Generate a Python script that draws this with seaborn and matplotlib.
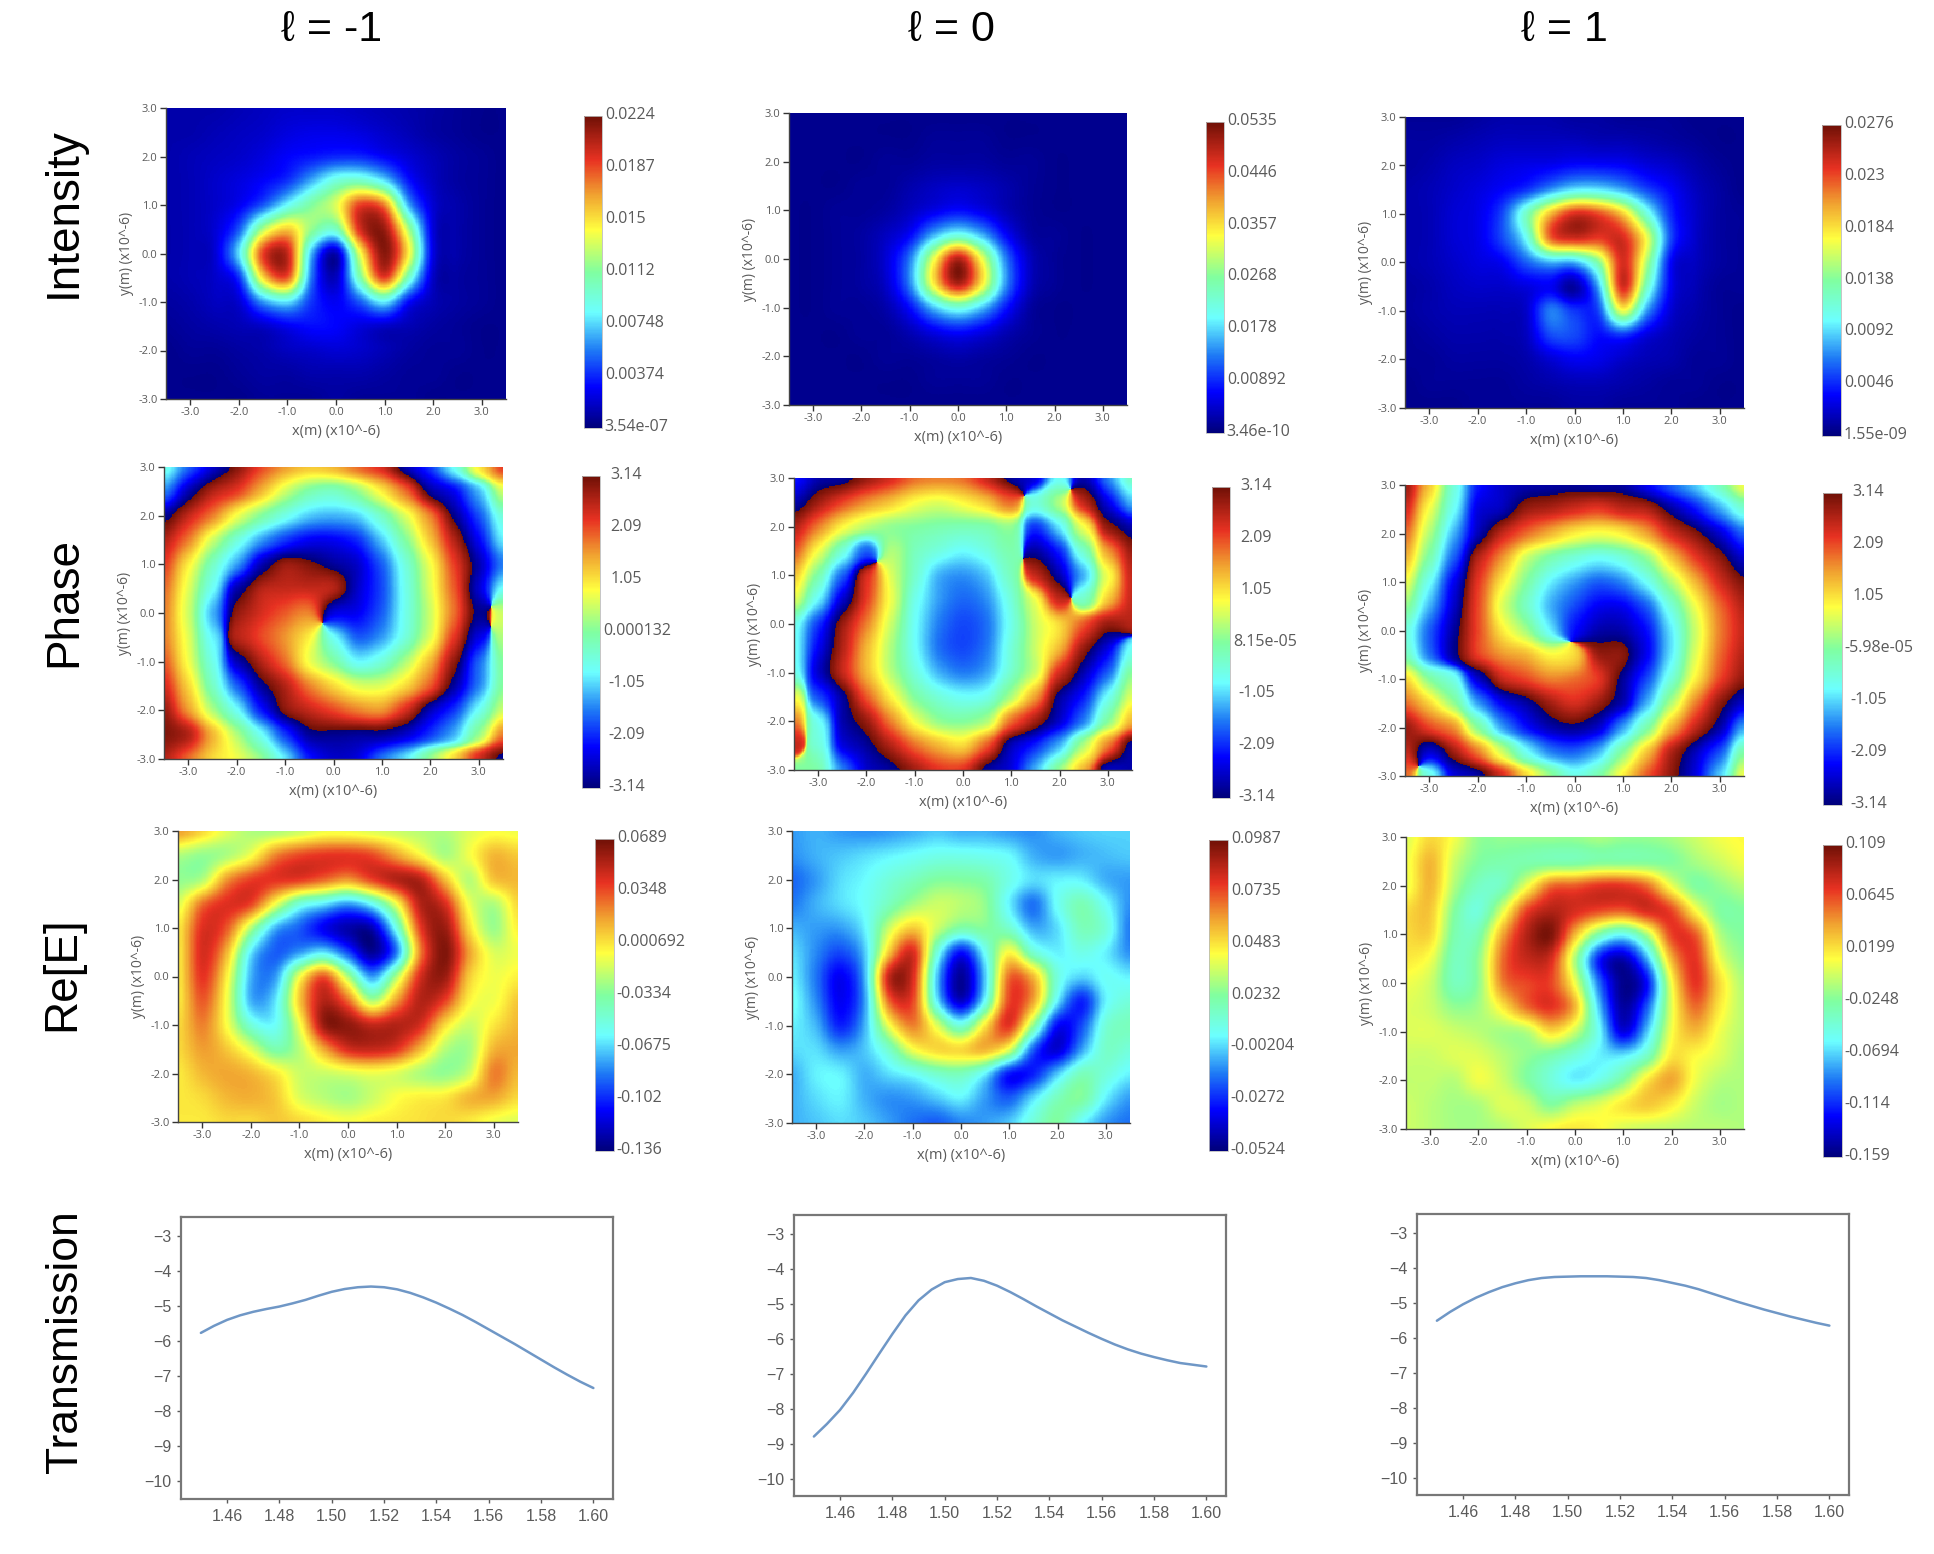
import numpy as np
import pandas as pd
import matplotlib
matplotlib.use('Agg')
import matplotlib.pyplot as plt
from matplotlib.colors import LinearSegmentedColormap
from matplotlib.transforms import ScaledTranslation
import seaborn as sns

sns.set_theme(style='white')
plt.rcParams['font.family'] = ['Liberation Sans', 'DejaVu Sans']

# every field below on a 0.5 step grid, rows y = 3 .. -3,
# columns x = -3.5 .. 3.5, as percent of the way up that panel's colour bar
intensity_m1 = [
    [5,5,5,6,7,8,8,8,7,6,5,4,3,2,2],
    [5,5,6,7,8,10,11,11,10,8,6,4,3,2,2],
    [5,6,7,8,10,13,15,17,17,13,9,6,4,3,2],
    [5,6,8,10,13,18,30,42,45,35,15,7,4,3,2],
    [5,6,8,12,22,38,50,60,85,78,30,9,5,3,2],
    [5,6,9,22,56,70,52,45,88,95,55,10,5,3,2],
    [5,6,9,35,85,90,30,6,62,97,65,11,5,3,2],
    [5,6,8,18,68,82,24,7,48,85,45,8,4,3,2],
    [4,5,7,9,28,35,18,12,22,36,14,6,4,3,2],
    [3,4,5,6,8,12,14,13,10,8,6,4,3,2,2],
    [2,3,3,4,5,7,8,9,8,6,4,3,3,2,2],
    [2,2,2,3,4,4,5,5,5,4,3,3,2,2,2],
    [2,2,2,2,3,3,3,4,3,3,3,2,2,2,2],
]
intensity_0 = [
    [2,2,2,2,2,2,2,2,2,2,2,2,2,2,2],
    [2,2,2,2,2,2,3,3,3,2,2,2,2,2,2],
    [2,2,2,2,3,3,4,4,4,3,3,2,2,2,2],
    [2,2,2,3,3,5,7,8,7,5,3,2,2,2,2],
    [2,2,3,3,4,7,11,14,11,6,3,2,2,2,2],
    [2,2,3,4,7,13,30,40,30,13,4,3,2,2,2],
    [2,2,3,4,9,25,62,92,62,25,7,3,2,2,2],
    [2,2,3,4,8,26,66,93,66,27,7,3,2,2,2],
    [2,2,3,3,5,14,32,42,32,15,4,2,2,2,2],
    [2,2,2,3,3,6,11,14,11,6,3,2,2,2,2],
    [2,2,2,2,3,3,4,5,4,3,2,2,2,2,2],
    [2,2,2,2,2,2,3,3,3,2,2,2,2,2,2],
    [2,2,2,2,2,2,2,2,2,2,2,2,2,2,2],
]
intensity_p1 = [
    [3,3,3,4,5,5,5,4,4,3,3,3,2,2,2],
    [4,4,5,6,7,7,7,7,6,6,5,4,3,2,2],
    [4,5,7,8,10,11,12,14,14,13,10,8,5,3,2],
    [5,6,8,10,13,18,28,36,36,30,20,13,7,4,2],
    [5,6,9,11,20,45,72,88,84,70,42,17,8,4,3],
    [5,6,9,11,20,38,80,88,85,88,62,20,8,4,3],
    [5,6,8,10,12,22,30,30,50,88,55,13,7,4,3],
    [4,5,7,8,8,10,12,4,30,88,45,12,6,3,3],
    [4,5,6,6,6,8,25,18,20,62,28,9,5,3,2],
    [3,4,5,5,5,7,20,20,14,18,10,6,4,3,2],
    [3,3,4,4,4,5,9,12,11,8,6,5,3,3,2],
    [2,3,3,3,3,4,5,6,6,5,4,3,3,2,2],
    [2,2,2,3,3,3,3,4,4,3,3,3,2,2,2],
]
phase_m1 = [
    [40,22,8,97,84,75,70,72,80,88,5,18,38,65,85],
    [25,5,92,85,72,58,48,45,52,65,80,3,12,30,58],
    [3,90,78,62,50,40,32,30,33,45,60,78,2,20,42],
    [92,78,58,42,28,18,12,12,17,32,50,70,92,12,35],
    [85,65,45,28,6,95,98,3,8,22,42,62,85,5,25],
    [80,60,38,5,92,90,90,92,8,20,40,60,82,8,38],
    [78,58,30,96,88,82,78,10,12,22,40,58,80,2,58],
    [78,60,36,92,84,76,65,38,22,28,42,60,86,10,55],
    [82,62,40,6,92,80,62,50,37,42,55,72,96,22,50],
    [88,68,45,22,3,92,78,68,60,60,68,82,4,25,50],
    [95,75,55,38,15,97,90,84,78,76,88,6,18,38,58],
    [98,92,72,55,38,18,3,2,3,3,8,18,30,52,78],
    [92,80,68,62,52,35,15,8,10,24,35,52,68,88,3],
]
phase_0 = [
    [15,5,3,95,88,80,78,80,90,3,10,38,5,25,45],
    [5,94,84,76,70,63,60,64,70,80,42,55,90,10,30],
    [92,78,64,56,52,50,48,47,48,52,18,35,62,96,5],
    [82,62,42,22,55,46,41,37,41,48,4,16,44,75,95],
    [70,48,22,88,60,44,30,27,32,46,90,5,30,62,90],
    [60,36,8,85,62,40,28,23,27,42,62,90,45,70,90],
    [40,18,95,78,58,38,25,20,24,40,58,68,82,95,92],
    [38,12,92,72,55,38,24,20,25,42,58,72,95,10,38],
    [40,8,90,72,56,42,30,25,29,44,58,88,5,22,50],
    [62,20,3,82,65,50,42,38,40,55,75,3,15,38,60],
    [78,38,5,95,78,62,52,50,55,80,94,8,25,50,72],
    [90,42,10,3,92,80,72,68,82,6,16,30,55,78,3],
    [50,48,25,8,3,94,86,86,3,10,30,52,72,6,5],
]
phase_p1 = [
    [95,70,42,15,8,5,4,3,4,4,12,22,32,45,62],
    [88,62,38,10,6,95,92,88,85,90,92,3,14,28,42],
    [80,55,30,6,90,80,72,65,62,65,74,88,97,8,22],
    [72,48,22,92,76,58,48,42,38,42,52,70,85,96,8],
    [62,38,12,86,66,50,36,28,22,26,38,55,72,88,98],
    [52,30,8,84,60,45,30,20,12,12,22,42,62,80,92],
    [42,22,4,84,66,54,36,14,5,5,14,35,58,78,90],
    [46,24,3,85,76,72,64,68,95,97,12,35,60,80,92],
    [68,50,40,8,90,84,78,80,86,3,20,42,65,84,96],
    [80,68,52,28,12,4,94,88,95,6,30,55,78,96,8],
    [95,84,76,50,28,14,5,2,8,28,48,72,90,4,28],
    [90,8,94,78,58,38,25,22,30,50,70,92,6,20,48],
    [80,40,10,4,88,68,52,40,48,65,82,96,10,32,62],
]
re_m1 = [
    [75,68,60,55,55,58,62,62,60,58,56,55,60,63,62],
    [55,52,55,63,78,84,86,86,84,75,65,55,62,72,70],
    [52,56,76,85,86,85,80,75,84,92,92,72,56,70,72],
    [60,80,87,84,62,42,35,28,38,62,92,88,62,55,68],
    [66,87,82,55,30,22,12,5,6,40,85,95,68,53,65],
    [66,88,72,35,22,28,35,20,3,25,78,98,75,60,62],
    [66,86,65,30,28,62,82,55,28,55,88,95,70,62,65],
    [66,82,62,30,35,70,92,80,55,75,92,85,65,62,70],
    [68,78,63,42,38,62,95,96,90,92,88,68,58,66,72],
    [68,75,70,60,48,56,74,88,90,86,72,56,54,72,74],
    [66,72,74,72,66,58,58,60,62,60,55,52,58,78,72],
    [66,68,72,73,70,60,56,54,58,63,65,66,72,74,68],
    [66,66,68,68,70,68,65,63,65,66,67,68,66,62,60],
]
re_0 = [
    [28,30,28,27,28,30,32,30,30,28,27,30,32,33,33],
    [27,30,32,34,36,38,40,40,39,37,30,28,30,31,32],
    [23,28,34,37,42,46,50,50,48,40,34,36,36,30,28],
    [25,30,34,38,46,54,58,56,52,36,24,38,47,38,27],
    [30,28,28,36,58,70,58,48,50,44,30,34,46,42,25],
    [34,26,20,32,70,88,42,14,38,64,44,36,40,36,27],
    [36,24,12,30,90,88,32,3,32,80,72,42,33,38,36],
    [38,26,12,28,80,84,36,8,38,84,74,36,16,36,42],
    [36,30,16,30,62,78,60,42,66,86,52,14,20,42,46],
    [34,34,28,32,44,62,68,68,72,60,22,9,28,44,42],
    [30,36,36,30,34,38,44,46,36,15,16,32,46,42,36],
    [30,34,36,30,27,28,32,36,28,22,34,46,50,36,28],
    [30,32,34,32,28,24,22,26,28,32,42,50,38,28,24],
]
re_p1 = [
    [60,68,62,52,52,52,52,52,54,52,52,54,58,62,64],
    [62,72,58,50,48,48,48,48,50,50,50,50,54,58,62],
    [62,72,55,45,46,62,80,82,86,86,80,62,50,52,56],
    [68,70,50,42,60,84,92,88,84,82,88,84,64,50,50],
    [68,68,48,48,74,92,98,72,48,38,55,84,82,56,50],
    [66,62,46,52,80,90,88,55,16,6,30,72,86,62,52],
    [62,58,46,52,78,84,84,62,24,2,14,62,86,68,55],
    [60,58,52,54,66,80,86,72,32,4,22,60,80,66,56],
    [60,60,58,56,54,56,68,58,38,10,32,62,72,62,56],
    [58,58,60,60,56,52,48,42,36,35,45,66,64,60,55],
    [57,57,56,62,58,50,42,36,40,50,66,74,62,56,55],
    [58,56,54,55,60,58,50,56,60,66,70,66,58,54,55],
    [58,56,54,54,56,60,64,66,64,60,58,57,56,56,55],
]

# colour bar ends and printed labels, top to bottom
labels_i_m1 = ['0.0224', '0.0187', '0.015', '0.0112', '0.00748', '0.00374', '3.54e-07']
labels_i_0 = ['0.0535', '0.0446', '0.0357', '0.0268', '0.0178', '0.00892', '3.46e-10']
labels_i_p1 = ['0.0276', '0.023', '0.0184', '0.0138', '0.0092', '0.0046', '1.55e-09']
labels_p_m1 = ['3.14', '2.09', '1.05', '0.000132', '-1.05', '-2.09', '-3.14']
labels_p_0 = ['3.14', '2.09', '1.05', '8.15e-05', '-1.05', '-2.09', '-3.14']
labels_p_p1 = ['3.14', '2.09', '1.05', '-5.98e-05', '-1.05', '-2.09', '-3.14']
labels_r_m1 = ['0.0689', '0.0348', '0.000692', '-0.0334', '-0.0675', '-0.102', '-0.136']
labels_r_0 = ['0.0987', '0.0735', '0.0483', '0.0232', '-0.00204', '-0.0272', '-0.0524']
labels_r_p1 = ['0.109', '0.0645', '0.0199', '-0.0248', '-0.0694', '-0.114', '-0.159']

# transmission curves
wavelength = [1.45, 1.455, 1.46, 1.465, 1.47, 1.475, 1.48, 1.485, 1.49, 1.495, 1.50, 1.505, 1.51, 1.515, 1.52, 1.525,
              1.53, 1.535, 1.54, 1.545, 1.55, 1.555, 1.56, 1.565, 1.57, 1.575, 1.58, 1.585, 1.59, 1.595, 1.60]
trans_m1 = [-5.77, -5.57, -5.40, -5.27, -5.17, -5.09, -5.02, -4.93, -4.83, -4.71, -4.60, -4.52, -4.47, -4.45, -4.47, -4.53,
            -4.63, -4.76, -4.91, -5.08, -5.26, -5.46, -5.67, -5.88, -6.09, -6.31, -6.53, -6.75, -6.96, -7.16, -7.34]
trans_0 = [-8.80, -8.44, -8.04, -7.55, -7.00, -6.43, -5.87, -5.34, -4.91, -4.60, -4.39, -4.30, -4.27, -4.35, -4.49, -4.67,
           -4.87, -5.08, -5.28, -5.48, -5.66, -5.84, -6.01, -6.17, -6.31, -6.43, -6.53, -6.62, -6.70, -6.75, -6.80]
trans_p1 = [-5.52, -5.27, -5.05, -4.86, -4.70, -4.56, -4.45, -4.36, -4.30, -4.27, -4.26, -4.25, -4.25, -4.25, -4.26, -4.27,
            -4.30, -4.36, -4.44, -4.52, -4.62, -4.74, -4.86, -4.98, -5.09, -5.20, -5.30, -5.40, -5.49, -5.58, -5.66]

column_titles = ['\u2113 = -1', '\u2113 = 0', '\u2113 = 1']
row_titles = ['Intensity', 'Phase', 'Re[E]', 'Transmission']

W, H = 1934, 1554
stops = [(0, '#00007a'), (.13, '#0000ff'), (.25, '#1f7cf5'), (.37, '#6cffff'), (.5, '#80ffa0'),
         (.635, '#ffff40'), (.75, '#f0a030'), (.86, '#e83222'), (1, '#701006')]
field_cmap = LinearSegmentedColormap.from_list('field', stops)

GREY = '#5a5a5a'
FACTOR = 20


def axes_px(fig, left, top, right, bottom):
    return fig.add_axes([left / W, 1 - bottom / H, (right - left) / W, (bottom - top) / H])


# cubic smoothing between the read grid values, for display only
def smooth(grid):
    out = np.asarray(grid)
    for axis in (0, 1):
        out = np.moveaxis(out, axis, 0)
        m = out.shape[0]
        t = np.linspace(0, m - 1, (m - 1) * FACTOR + 1)
        i = np.clip(t.astype(int), 0, m - 2)
        f = (t - i)[:, None]
        p0, p1 = out[np.clip(i - 1, 0, m - 1)], out[i]
        p2, p3 = out[i + 1], out[np.clip(i + 2, 0, m - 1)]
        out = 0.5 * (2 * p1 + (p2 - p0) * f + (2 * p0 - 5 * p1 + 4 * p2 - p3) * f ** 2
                     + (3 * p1 - p0 - 3 * p2 + p3) * f ** 3)
        out = np.moveaxis(out, 0, axis)
    return out


def draw_field(fig, grid, tick_labels, rect, cbar_rect, is_phase=False):
    lo, hi = float(tick_labels[-1]), float(tick_labels[0])
    pct = np.array(grid, dtype=float) / 100
    if is_phase:
        # phase wraps round, so smooth it on the unit circle
        values = np.angle(smooth(np.exp(1j * (lo + (hi - lo) * pct))))
    else:
        values = smooth(lo + (hi - lo) * pct)
    ny, nx = values.shape
    ax = axes_px(fig, *rect)
    cax = axes_px(fig, *cbar_rect)
    sns.heatmap(pd.DataFrame(values), ax=ax, cbar_ax=cax, cmap=field_cmap, vmin=lo, vmax=hi,
                xticklabels=False, yticklabels=False)
    xt = np.arange(-3, 4)
    yt = np.arange(-3, 4)
    ax.set_xticks((xt + 3.5) / 7 * nx)
    ax.set_xticklabels(['%.1f' % v for v in xt], fontsize=8, color=GREY, family='Open Sans')
    ax.set_yticks((3 - yt) / 6 * ny)
    ax.set_yticklabels(['%.1f' % v for v in yt], fontsize=8, color=GREY, family='Open Sans', rotation=0)
    ax.tick_params(left=True, bottom=True, length=4, width=1, color='#333333', pad=2)
    for side in ('left', 'bottom'):
        ax.spines[side].set_visible(True)
        ax.spines[side].set_color('#444444')
        ax.spines[side].set_linewidth(1)
    ax.set_xlabel('x(m) (x10^-6)', fontsize=10.5, color=GREY, family='Open Sans', labelpad=4)
    ax.set_ylabel('y(m) (x10^-6)', fontsize=10, color=GREY, family='Open Sans', labelpad=3)
    cax.set_yticks(np.linspace(hi, lo, 7))
    cax.set_yticklabels(tick_labels, fontsize=11.5, color=GREY, family='Open Sans')
    cax.tick_params(right=False, left=False, length=0, pad=2)
    if is_phase:
        # phase labels sit centred, only the long middle one starts at the bar
        for k, tick in enumerate(cax.yaxis.get_major_ticks()):
            if k != 3:
                tick.set_pad(19)
                tick.label2.set_ha('center')
    nudge = ScaledTranslation(0, 3 / 100, fig.dpi_scale_trans)
    for label in cax.get_yticklabels():
        label.set_transform(label.get_transform() + nudge)
    bar = ax.collections[0].colorbar
    bar.outline.set_edgecolor('#bbbbbb')
    bar.outline.set_linewidth(0.6)


def draw_curve(fig, y, rect):
    ax = axes_px(fig, *rect)
    sns.lineplot(x=wavelength, y=y, ax=ax, color='#6f97c6', linewidth=1.8)
    ax.set_xlim(1.4424, 1.6075)
    ax.set_ylim(-10.5, -2.47)
    ax.set_xticks([1.46, 1.48, 1.50, 1.52, 1.54, 1.56, 1.58, 1.60])
    ax.set_xticklabels(['%.2f' % v for v in ax.get_xticks()], fontsize=11.5, color=GREY)
    ax.set_yticks(range(-10, -2))
    ax.set_yticklabels(['\u2212%d' % abs(v) for v in range(-10, -2)], fontsize=11.5, color=GREY)
    ax.tick_params(left=True, bottom=True, length=3, width=1, color=GREY, pad=4)
    for spine in ax.spines.values():
        spine.set_color('#777777')
        spine.set_linewidth(1.6)


fig = plt.figure(figsize=(W / 100, H / 100), dpi=100, facecolor='white')

draw_field(fig, intensity_m1, labels_i_m1, (166, 108, 506, 399), (584, 116, 602, 428))
draw_field(fig, intensity_0, labels_i_0, (789, 113, 1127, 405), (1206, 122, 1224, 433))
draw_field(fig, intensity_p1, labels_i_p1, (1405, 117, 1744, 408), (1822, 125, 1841, 436))
draw_field(fig, phase_m1, labels_p_m1, (164, 467, 503, 759), (582, 476, 600, 788), True)
draw_field(fig, phase_0, labels_p_0, (794, 478, 1132, 770), (1212, 487, 1230, 798), True)
draw_field(fig, phase_p1, labels_p_p1, (1405, 485, 1744, 776), (1823, 493, 1842, 805), True)
draw_field(fig, re_m1, labels_r_m1, (178, 831, 518, 1122), (595, 839, 614, 1151))
draw_field(fig, re_0, labels_r_0, (792, 831, 1130, 1123), (1209, 840, 1228, 1151))
draw_field(fig, re_p1, labels_r_p1, (1406, 837, 1744, 1129), (1823, 845, 1842, 1157))

draw_curve(fig, trans_m1, (181, 1217, 613, 1499))
draw_curve(fig, trans_0, (794, 1215, 1226, 1496))
draw_curve(fig, trans_p1, (1417, 1214, 1849, 1495))

for text, x in zip(column_titles, [332, 951, 1564]):
    fig.text(x / W, 1 - 30 / H, text, fontsize=31, ha='center', va='center', color='black')
for text, y, size, x in zip(row_titles, [213, 602, 974, 1342], [33, 33, 33, 32], [64, 64, 62, 66]):
    fig.text(x / W, 1 - y / H, text, fontsize=size, rotation=90, ha='center', va='center', color='black')

fig.savefig('out.png', dpi=100)
